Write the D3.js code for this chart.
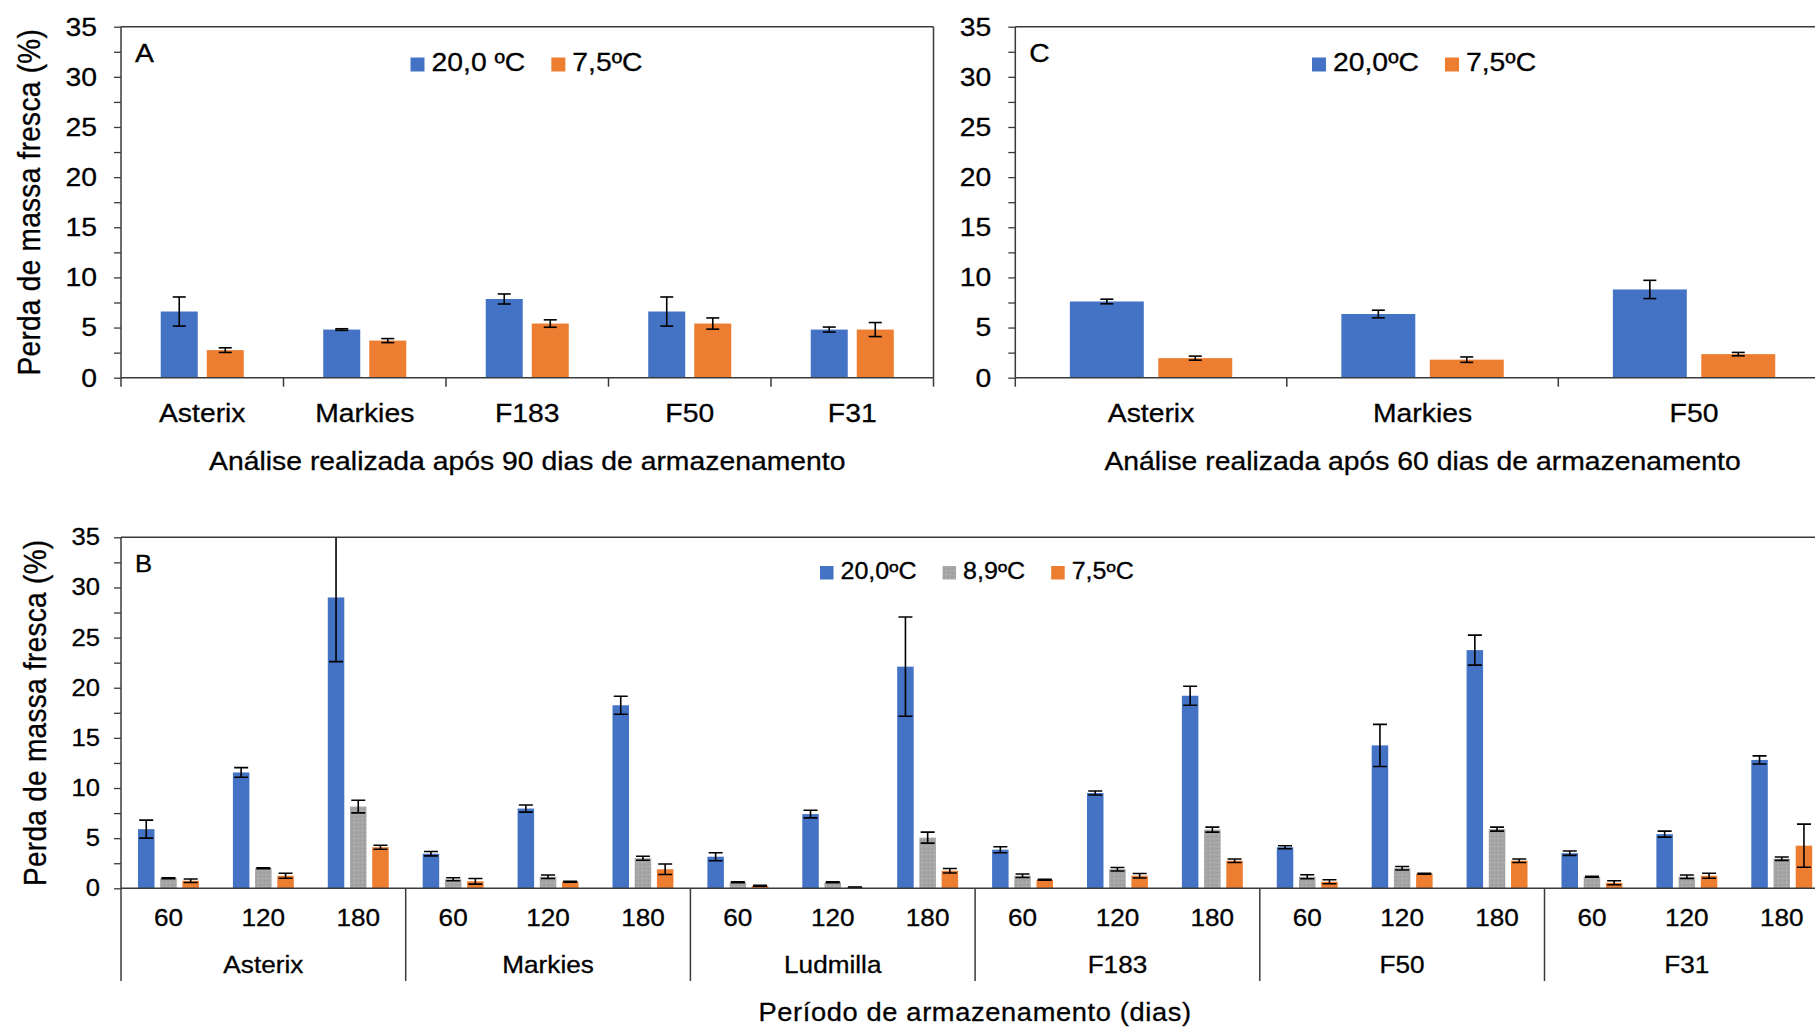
<!DOCTYPE html>
<html>
<head>
<meta charset="utf-8">
<script src="https://cdn.jsdelivr.net/npm/d3@7"></script>
<style>
  body { margin: 0; background: #fff; }
  svg { display: block; font-family: "Liberation Sans", Arial, sans-serif; }
  svg text { stroke: #000; stroke-width: 0.3px; }
</style>
</head>
<body>
<div id="chart"></div>
<script>
// ---- données ----
// A : 90 dias
const cultA = ["Asterix", "Markies", "F183", "F50", "F31"];
const a20 = [6.6, 4.8, 7.85, 6.6, 4.8];
const a20Err = [1.45, 0.08, 0.5, 1.45, 0.25];
const a75 = [2.75, 3.7, 5.4, 5.4, 4.8];
const a75Err = [0.23, 0.2, 0.37, 0.56, 0.7];

// C : 60 dias
const cultC = ["Asterix", "Markies", "F50"];
const c20 = [7.6, 6.35, 8.8];
const c20Err = [0.23, 0.38, 0.91];
const c75 = [1.95, 1.8, 2.35];
const c75Err = [0.2, 0.27, 0.17];

// B : período de armazenamento
const cultB = ["Asterix", "Markies", "Ludmilla", "F183", "F50", "F31"];
const periods = ["60", "120", "180"];
const b20 = [5.9, 11.55, 29.0, 3.45, 7.95, 18.25, 3.15, 7.4, 22.1, 3.85, 9.5, 19.2, 4.1, 14.25, 23.75, 3.5, 5.4, 12.8];
const b20Err = [0.9, 0.48, 6.4, 0.22, 0.35, 0.9, 0.4, 0.38, 4.95, 0.3, 0.2, 0.95, 0.15, 2.1, 1.5, 0.22, 0.3, 0.4];
const b89 = [1.0, 2.0, 8.15, 0.9, 1.15, 3.0, 0.6, 0.6, 5.05, 1.25, 1.9, 5.85, 1.15, 2.0, 5.9, 1.15, 1.15, 2.95];
const b89Err = [0.05, 0.05, 0.63, 0.15, 0.17, 0.2, 0.05, 0.05, 0.55, 0.17, 0.17, 0.25, 0.2, 0.17, 0.2, 0.05, 0.17, 0.17];
const b75 = [0.75, 1.25, 4.1, 0.7, 0.65, 1.9, 0.25, 0.1, 1.75, 0.85, 1.25, 2.75, 0.65, 1.45, 2.75, 0.55, 1.25, 4.25];
const b75Err = [0.17, 0.25, 0.2, 0.28, 0.05, 0.52, 0.05, 0.03, 0.23, 0.05, 0.22, 0.17, 0.2, 0.05, 0.17, 0.2, 0.25, 2.15];

const yMajor = [0, 5, 10, 15, 20, 25, 30, 35];
const yMinor = [2.5, 7.5, 12.5, 17.5, 22.5, 27.5, 32.5];

const blue = "#4472C4", orange = "#ED7D31";
const ink = "#000", lineCol = "#3a3a3a";
const W = 1815, H = 1029;
const stretchX = 1.09; // la figure originale est un peu étirée en largeur

const svg = d3.select("#chart").append("svg")
    .attr("width", W)
    .attr("height", H);

// motif pointillé pour la série grise
const defs = svg.append("defs");
const pat = defs.append("pattern")
    .attr("id", "grayDots")
    .attr("width", 4).attr("height", 4)
    .attr("patternUnits", "userSpaceOnUse");
pat.append("rect").attr("width", 4).attr("height", 4).attr("fill", "#A6A6A6");
pat.append("rect").attr("x", 0).attr("y", 0).attr("width", 1).attr("height", 1).attr("fill", "#959595");
pat.append("rect").attr("x", 2).attr("y", 2).attr("width", 1).attr("height", 1).attr("fill", "#b6b6b6");
pat.append("rect").attr("x", 3).attr("y", 1).attr("width", 1).attr("height", 1).attr("fill", "#9c9c9c");
const gray = "url(#grayDots)";

function yAxis(g, y, left, fontSize, pad) {
    const major = g.append("g")
        .attr("transform", `translate(${left},0)`)
        .call(d3.axisLeft(y).tickValues(yMajor).tickSize(7).tickPadding(pad).tickSizeOuter(0));
    major.select(".domain").remove();
    major.selectAll("line").attr("stroke", lineCol).attr("stroke-width", 1.3);
    major.selectAll("text")
        .attr("fill", ink)
        .style("font-size", fontSize + "px")
        .style("font-family", '"Liberation Sans", Arial, sans-serif');

    const minor = g.append("g")
        .attr("transform", `translate(${left},0)`)
        .call(d3.axisLeft(y).tickValues(yMinor).tickSize(7).tickFormat("").tickSizeOuter(0));
    minor.select(".domain").remove();
    minor.selectAll("line").attr("stroke", lineCol).attr("stroke-width", 1.3);
}

function errorBars(g, data, capW) {
    const eb = g.selectAll(null).data(data).join("g");
    eb.append("line")
        .attr("x1", d => d.cx).attr("x2", d => d.cx)
        .attr("y1", d => d.yHi).attr("y2", d => d.yLo);
    eb.append("line")
        .attr("x1", d => d.cx - capW / 2).attr("x2", d => d.cx + capW / 2)
        .attr("y1", d => d.yHi).attr("y2", d => d.yHi);
    eb.append("line")
        .attr("x1", d => d.cx - capW / 2).attr("x2", d => d.cx + capW / 2)
        .attr("y1", d => d.yLo).attr("y2", d => d.yLo);
    eb.selectAll("line").attr("stroke", "#000").attr("stroke-width", 1.6);
}

function legend(g, items, x, top, size, fontSize) {
    let cx = x;
    items.forEach(it => {
        g.append("rect")
            .attr("x", cx).attr("y", top)
            .attr("width", size).attr("height", size)
            .attr("fill", it.color);
        const t = g.append("text")
            .attr("x", cx + size + 7)
            .attr("y", top + size)
            .attr("fill", ink)
            .style("font-size", fontSize + "px")
            .text(it.name);
        cx += size + 7 + t.node().getComputedTextLength() * stretchX + 26;
    });
}

// ---- panneaux du haut (A et C) ----
function drawTop(cfg) {
    const g = svg.append("g");
    const y = d3.scaleLinear().domain([0, 35]).range([cfg.y0, cfg.y1]);
    const x0 = d3.scaleBand().domain(cfg.cats).range([cfg.left, cfg.right]);
    const bw = x0.bandwidth();
    const inner = bw * cfg.inner;
    const x1 = d3.scaleBand()
        .domain(d3.range(cfg.series.length))
        .range([(bw - inner) / 2, (bw + inner) / 2])
        .paddingInner(cfg.pad);

    // barres
    cfg.series.forEach((s, si) => {
        g.append("g").selectAll("rect")
            .data(cfg.cats)
            .join("rect")
            .attr("x", (d, i) => x0(d) + x1(si))
            .attr("y", (d, i) => y(s.vals[i]))
            .attr("width", x1.bandwidth())
            .attr("height", (d, i) => y(0) - y(s.vals[i]))
            .attr("fill", s.color);
    });

    // barres d'erreur
    const errs = [];
    cfg.series.forEach((s, si) => {
        cfg.cats.forEach((c, i) => {
            errs.push({
                cx: x0(c) + x1(si) + x1.bandwidth() / 2,
                yHi: y(s.vals[i] + s.err[i]),
                yLo: y(s.vals[i] - s.err[i])
            });
        });
    });
    errorBars(g.append("g"), errs, 13);

    // cadre et axes
    const frame = g.append("g").attr("stroke", lineCol).attr("stroke-width", 1.5);
    frame.append("line").attr("x1", cfg.left).attr("x2", cfg.right).attr("y1", y(35)).attr("y2", y(35));
    frame.append("line").attr("x1", cfg.left).attr("x2", cfg.left).attr("y1", y(35)).attr("y2", y(0));
    frame.append("line").attr("x1", cfg.left).attr("x2", cfg.right).attr("y1", y(0)).attr("y2", y(0));
    if (cfg.right < W) {
        frame.append("line").attr("x1", cfg.right).attr("x2", cfg.right).attr("y1", y(35)).attr("y2", y(0));
    }
    frame.selectAll(null)
        .data(d3.range(cfg.cats.length + 1))
        .join("line")
        .attr("x1", i => cfg.left + i * bw).attr("x2", i => cfg.left + i * bw)
        .attr("y1", y(0)).attr("y2", y(0) + 9);

    yAxis(g, y, cfg.left, 26, 17);

    g.append("g").selectAll("text")
        .data(cfg.cats)
        .join("text")
        .attr("x", d => x0(d) + bw / 2)
        .attr("y", 421.7)
        .attr("text-anchor", "middle")
        .attr("fill", ink)
        .style("font-size", "26px")
        .text(d => d);

    g.append("text")
        .attr("x", (cfg.left + cfg.right) / 2)
        .attr("y", 470)
        .attr("text-anchor", "middle")
        .attr("fill", ink)
        .style("font-size", "26px")
        .text(cfg.title);

    g.append("text")
        .attr("x", cfg.left + 14)
        .attr("y", 62)
        .attr("fill", ink)
        .style("font-size", "26px")
        .text(cfg.letter);

    legend(g, cfg.series, cfg.legendX, 57.5, 14, 26);

    if (cfg.yTitle) {
        g.append("text")
            .attr("class", "rot")
            .attr("transform", `translate(40,${(cfg.y0 + cfg.y1) / 2}) scale(${stretchX},1) rotate(-90)`)
            .attr("text-anchor", "middle")
            .attr("fill", ink)
            .style("font-size", "28px")
            .style("letter-spacing", "0.3px")
            .text("Perda de massa fresca (%)");
    }
}

drawTop({
    cats: cultA,
    series: [
        { name: "20,0 ºC", color: blue, vals: a20, err: a20Err },
        { name: "7,5ºC", color: orange, vals: a75, err: a75Err }
    ],
    left: 121, right: 933.5, y0: 377.7, y1: 26.7,
    inner: 0.511, pad: 0.196,
    title: "Análise realizada após 90 dias de armazenamento",
    letter: "A", legendX: 410.5, yTitle: true
});

drawTop({
    cats: cultC,
    series: [
        { name: "20,0ºC", color: blue, vals: c20, err: c20Err },
        { name: "7,5ºC", color: orange, vals: c75, err: c75Err }
    ],
    left: 1015.3, right: 1829.8, y0: 377.7, y1: 26.7,
    inner: 0.598, pad: 0.164,
    title: "Análise realizada após 60 dias de armazenamento",
    letter: "C", legendX: 1312, yTitle: false
});

// ---- panneau B ----
(function drawB() {
    const g = svg.append("g");
    const left = 121, groupW = 284.7, bottom = 981;
    const right = left + groupW * cultB.length;
    const y = d3.scaleLinear().domain([0, 35]).range([888.3, 537.3]);
    const x0 = d3.scaleBand().domain(cultB).range([left, right]);
    const xs = d3.scaleBand().domain(periods).range([0, x0.bandwidth()]);
    const sw = xs.bandwidth();
    const inner = sw * 0.642;
    const x1 = d3.scaleBand().domain([0, 1, 2]).range([(sw - inner) / 2, (sw + inner) / 2]).paddingInner(0.257);

    const series = [
        { name: "20,0ºC", color: blue, vals: b20, err: b20Err },
        { name: "8,9ºC", color: gray, vals: b89, err: b89Err },
        { name: "7,5ºC", color: orange, vals: b75, err: b75Err }
    ];
    const cells = d3.cross(cultB, periods);

    series.forEach((s, si) => {
        g.append("g").selectAll("rect")
            .data(cells)
            .join("rect")
            .attr("x", d => x0(d[0]) + xs(d[1]) + x1(si))
            .attr("y", (d, i) => y(s.vals[i]))
            .attr("width", x1.bandwidth())
            .attr("height", (d, i) => y(0) - y(s.vals[i]))
            .attr("fill", s.color);
    });

    defs.append("clipPath").attr("id", "clipB")
        .append("rect").attr("x", 0).attr("y", y(35)).attr("width", W).attr("height", y(0) - y(35) + 20);

    const errs = [];
    series.forEach((s, si) => {
        cells.forEach((d, i) => {
            errs.push({
                cx: x0(d[0]) + xs(d[1]) + x1(si) + x1.bandwidth() / 2,
                yHi: y(s.vals[i] + s.err[i]),
                yLo: y(s.vals[i] - s.err[i])
            });
        });
    });
    errorBars(g.append("g").attr("clip-path", "url(#clipB)"), errs, 14);

    const frame = g.append("g").attr("stroke", lineCol).attr("stroke-width", 1.5);
    frame.append("line").attr("x1", left).attr("x2", right).attr("y1", y(35)).attr("y2", y(35));
    frame.append("line").attr("x1", left).attr("x2", left).attr("y1", y(35)).attr("y2", bottom);
    frame.append("line").attr("x1", left).attr("x2", right).attr("y1", y(0)).attr("y2", y(0));
    frame.selectAll(null)
        .data(d3.range(1, cultB.length + 1))
        .join("line")
        .attr("x1", i => left + i * groupW).attr("x2", i => left + i * groupW)
        .attr("y1", y(0)).attr("y2", bottom);

    yAxis(g, y, left, 23.5, 14);

    g.append("g").selectAll("text")
        .data(cells)
        .join("text")
        .attr("x", d => x0(d[0]) + xs(d[1]) + sw / 2)
        .attr("y", 926.5)
        .attr("text-anchor", "middle")
        .attr("fill", ink)
        .style("font-size", "24px")
        .text(d => d[1]);

    g.append("g").selectAll("text")
        .data(cultB)
        .join("text")
        .attr("x", d => x0(d) + x0.bandwidth() / 2)
        .attr("y", 973)
        .attr("text-anchor", "middle")
        .attr("fill", ink)
        .style("font-size", "24px")
        .text(d => d);

    g.append("text")
        .attr("x", (left + right) / 2)
        .attr("y", 1021)
        .attr("text-anchor", "middle")
        .attr("fill", ink)
        .style("font-size", "25px")
        .style("letter-spacing", "0.6px")
        .text("Período de armazenamento (dias)");

    g.append("text")
        .attr("x", left + 14)
        .attr("y", 572.5)
        .attr("fill", ink)
        .style("font-size", "23.5px")
        .text("B");

    legend(g, series, 820, 566, 13.5, 23);

    g.append("text")
        .attr("class", "rot")
        .attr("transform", `translate(46,${(y(0) + y(35)) / 2}) scale(${stretchX},1) rotate(-90)`)
        .attr("text-anchor", "middle")
        .attr("fill", ink)
        .style("font-size", "28px")
        .style("letter-spacing", "0.3px")
        .text("Perda de massa fresca (%)");
})();

// étirement horizontal du texte, autour du point d'ancrage
svg.selectAll("text:not(.rot)").each(function() {
    const ax = +d3.select(this).attr("x") || 0;
    d3.select(this).attr("transform", `translate(${ax},0) scale(${stretchX},1) translate(${-ax},0)`);
});
</script>
</body>
</html>
